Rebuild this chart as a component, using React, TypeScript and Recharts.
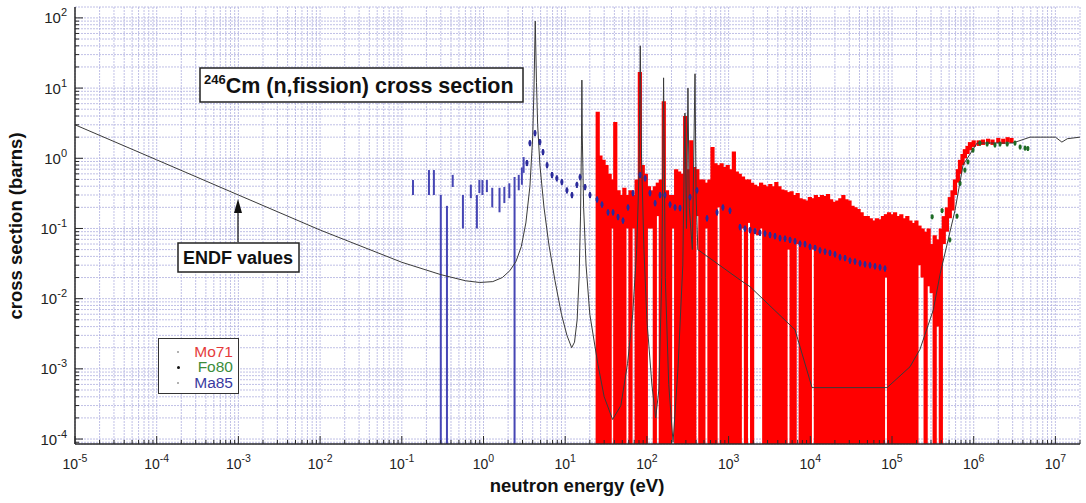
import React from "react";
import {
  ComposedChart,
  Line,
  Scatter,
  ErrorBar,
  XAxis,
  YAxis,
  CartesianGrid,
  Legend,
} from "recharts";

const FONT = '"Liberation Sans", Arial, Helvetica, sans-serif';
const AXIS = "#2a2a2a";

const X_MIN = 1e-5;
const X_MAX = 2e7;
const Y_MIN = 8.5e-5;
const Y_MAX = 143;

const X_DECADES = [-5, -4, -3, -2, -1, 0, 1, 2, 3, 4, 5, 6, 7];
const Y_DECADES = [-5, -4, -3, -2, -1, 0, 1, 2];
const LEGEND_ORDER = ["Mo71", "Fo80", "Ma85"];

// ENDF evaluated curve (eV, barns)
const ENDF_E = [
  1e-5, 1e-4, 1e-3, 1e-2, 0.1, 0.3, 0.6, 0.9, 1.3, 1.7, 2.1, 2.5, 2.9, 3.3, 3.7,
  4.0, 4.15, 4.3, 4.45, 4.6, 4.9, 5.5, 6.3, 7.5, 9, 10.5, 12, 13, 14, 14.8, 15.4,
  15.8, 16.0, 16.2, 16.8, 18, 20, 25, 30, 38, 48, 58, 67, 75, 80, 83, 86, 92, 100,
  115, 128, 140, 152, 160, 168, 185, 209, 240, 275, 292, 305, 318, 330, 360, 388,
  400, 420, 1380, 1830, 6500, 10500, 87000, 166000, 220000, 320000, 390000,
  590000, 740000, 1100000, 3000000, 4900000, 10000000, 12000000, 14000000,
  20000000,
];
const ENDF_Y = [
  3.0, 0.95, 0.3, 0.095, 0.033, 0.022, 0.018, 0.017, 0.0175, 0.02, 0.025, 0.034,
  0.055, 0.12, 0.4, 2.0, 10, 90, 12, 3.0, 0.8, 0.2, 0.06, 0.018, 0.006, 0.003,
  0.002, 0.0024, 0.005, 0.02, 0.15, 1.5, 13, 2, 0.2, 0.03, 0.006, 0.0012, 0.0004,
  0.00019, 0.0003, 0.0012, 0.006, 0.05, 0.6, 40, 1.0, 0.05, 0.005, 0.0006, 0.0002,
  0.0005, 0.02, 14, 0.02, 0.0006, 0.00009, 0.001, 0.03, 4.4, 0.1, 10, 0.2, 0.05,
  16, 0.3, 0.05, 0.0185, 0.0148, 0.0036, 0.00054, 0.00054, 0.00107, 0.0019,
  0.0069, 0.023, 0.18, 0.8, 1.65, 1.65, 2.0, 2.0, 1.7, 1.9, 2.0,
];

// Mo71: top of each bar and bottom (0 = error bar runs below zero)
const MO71_E = [
  25, 27, 29.5, 32, 35, 38, 41, 45, 49, 53, 58, 63, 69, 75, 82, 89, 97, 106, 115,
  125, 136, 148, 161, 176, 192, 209, 228, 248, 270, 294, 320, 349, 380, 414, 451,
  491, 535, 583, 635, 692, 754, 821, 895, 975, 1060, 1160, 1260, 1370, 1500, 1630,
  1780, 1940, 2110, 2300, 2500, 2730, 2970, 3240, 3530, 3840, 4190, 4560, 4970,
  5420, 5900, 6430, 7000, 7630, 8310, 9060, 9870, 10800, 11700, 12800, 13900,
  15200, 16500, 18000, 19600, 21400, 23300, 25400, 27700, 30200, 32900, 35800,
  39000, 42500, 46300, 50500, 55000, 59900, 65300, 71100, 77500, 84500, 92000,
  100000, 109000, 119000, 130000, 141000, 154000, 168000, 183000, 199000, 217000,
  237000, 258000, 281000, 306000, 333000, 363000, 396000, 430000, 470000, 510000,
  550000, 590000, 640000, 680000, 730000, 780000, 840000, 900000, 1000000,
  1150000, 1300000, 1500000, 1700000, 2000000, 2300000, 2600000, 2900000,
];
const MO71_HI = [
  4.6, 1.1, 0.95, 0.8, 0.6, 0.5, 3.3, 0.35, 0.3, 0.38, 0.3, 0.35, 0.3, 0.5, 17,
  0.8, 0.6, 0.4, 0.35, 0.4, 0.45, 0.5, 6.5, 0.35, 0.3, 0.3, 0.7, 0.65, 0.6, 4.0,
  0.7, 1.8, 0.75, 0.7, 0.5, 0.5, 0.45, 0.5, 1.45, 0.85, 0.8, 0.85, 0.75, 0.8, 0.7,
  1.25, 0.65, 0.6, 0.55, 0.5, 0.5, 0.45, 0.42, 0.4, 0.45, 0.42, 0.4, 0.43, 0.4,
  0.46, 0.4, 0.36, 0.35, 0.33, 0.34, 0.3, 0.32, 0.27, 0.26, 0.25, 0.28, 0.27, 0.3,
  0.28, 0.3, 0.29, 0.31, 0.26, 0.24, 0.25, 0.27, 0.3, 0.26, 0.25, 0.21, 0.2, 0.19,
  0.17, 0.15, 0.15, 0.14, 0.13, 0.14, 0.135, 0.15, 0.16, 0.17, 0.16, 0.17, 0.15,
  0.16, 0.14, 0.15, 0.13, 0.12, 0.13, 0.11, 0.1, 0.09, 0.1, 0.06, 0.08, 0.07, 0.1,
  0.15, 0.2, 0.28, 0.35, 0.5, 0.7, 0.95, 1.15, 1.35, 1.5, 1.7, 1.8, 1.8, 1.85,
  1.9, 1.85, 1.95, 1.9, 2.0, 1.95,
];
const MO71_LO = [
  0, 0, 0, 0, 0, 0.1, 0, 0, 0, 0, 0.1, 0, 0.1, 0, 0, 0, 0, 0.1, 0.1, 0, 0.15, 0,
  0, 0, 0, 0.1, 0, 0, 0, 0, 0, 0, 0, 0.15, 0, 0, 0.1, 0, 0, 0, 0.2, 0, 0, 0, 0, 0,
  0, 0, 0.1, 0, 0.12, 0, 0.1, 0.08, 0.1, 0, 0, 0, 0, 0, 0, 0, 0, 0.05, 0, 0, 0.06,
  0, 0, 0, 0, 0.05, 0, 0, 0, 0, 0, 0, 0, 0, 0, 0, 0, 0, 0, 0, 0, 0, 0, 0, 0, 0, 0,
  0, 0, 0.02, 0, 0, 0, 0, 0, 0, 0, 0, 0, 0, 0.03, 0.02, 0, 0.015, 0.012, 0, 0.004,
  0, 0.06, 0.09, 0.14, 0.18, 0.3, 0.45, 0.6, 0.8, 1.0, 1.15, 1.3, 1.45, 1.5, 1.55,
  1.6, 1.55, 1.65, 1.6, 1.7, 1.65,
];

// Fo80 points
const FO80_E = [
  310000, 410000, 510000, 625000, 680000, 780000, 850000, 980000, 1190000,
  1460000, 1820000, 2100000, 2570000, 3200000, 3700000, 4250000, 4600000,
];
const FO80_Y = [
  0.147, 0.18, 0.069, 0.15, 0.44, 0.68, 0.89, 1.31, 1.65, 1.6, 1.55, 1.6, 1.6,
  1.65, 1.45, 1.4, 1.38,
];
const FO80_REL_ERR = 0.08;

// Ma85 resonance-region points
const MA85_E = [
  3.4, 3.7, 4.27, 4.9, 5.35, 6.0, 6.9, 7.9, 9.1, 10.5, 12.1, 13.9, 15.2, 17.5,
  20.1, 24.5, 28.2, 33.4, 38.5, 44.3, 51, 58.7, 67.6, 82.4, 95, 109, 126, 145, 166,
  192, 221, 254, 337, 410, 544, 721, 852, 1040, 1380, 1585, 1830, 2105, 2420,
  2790, 3210, 3700, 4260, 4900, 5650, 6500, 7480, 8610, 9910, 11430, 13150, 15150,
  17400, 20050, 23100, 26600, 30600, 35240, 40600, 46700, 53800, 61950, 71300,
  82000,
];
const MA85_Y = [
  0.86, 1.65, 2.29, 1.71, 1.23, 0.8, 0.58, 0.52, 0.46, 0.35, 0.3, 0.42, 0.54, 0.39,
  0.3, 0.26, 0.22, 0.17, 0.17, 0.146, 0.13, 0.2, 0.32, 0.58, 0.52, 0.32, 0.23, 0.3,
  0.3, 0.22, 0.2, 0.196, 0.28, 0.35, 0.14, 0.17, 0.2, 0.18, 0.105, 0.1, 0.095,
  0.092, 0.087, 0.085, 0.081, 0.078, 0.073, 0.072, 0.069, 0.066, 0.061, 0.06,
  0.055, 0.053, 0.049, 0.047, 0.045, 0.043, 0.039, 0.038, 0.035, 0.034, 0.032,
  0.031, 0.03, 0.029, 0.028, 0.027,
];
const MA85_REL_ERR = 0.1;

// Ma85 low-energy points (bar top / bottom, 0 = runs below zero)
const MA85_LOW_E = [
  0.137, 0.215, 0.247, 0.3, 0.357, 0.42, 0.56, 0.7, 0.83, 0.89, 0.97, 1.1, 1.28,
  1.57, 1.8, 2.07, 2.4, 2.7, 2.95, 3.1,
];
const MA85_LOW_HI = [
  0.49, 0.68, 0.68, 0.3, 0.21, 0.58, 0.3, 0.42, 0.3, 0.49, 0.49, 0.49, 0.38, 0.38,
  0.39, 0.44, 0.54, 0.58, 0.74, 1.04,
];
const MA85_LOW_LO = [
  0.3, 0.3, 0.3, 0, 0, 0.39, 0.1, 0.27, 0.1, 0.32, 0.3, 0.33, 0.2, 0.17, 0.23,
  0.27, 0, 0.35, 0.42, 0.62,
];

const endfData = ENDF_E.map((x, i) => ({ x, y: ENDF_Y[i] }));
const barRows = (es: number[], his: number[], los: number[]) =>
  es.map((x, i) => {
    const lo = los[i] > 0 ? los[i] : Y_MIN;
    return { x, y: his[i], err: [his[i] - lo, 0] };
  });
const mo71Data = barRows(MO71_E, MO71_HI, MO71_LO);
const ma85LowData = barRows(MA85_LOW_E, MA85_LOW_HI, MA85_LOW_LO);
const ma85Data = MA85_E.map((x, i) => ({
  x,
  y: MA85_Y[i],
  err: MA85_Y[i] * MA85_REL_ERR,
}));
const fo80Data = FO80_E.map((x, i) => ({
  x,
  y: FO80_Y[i],
  err: FO80_Y[i] * FO80_REL_ERR,
}));

function logTicks(decades: number[], lo: number, hi: number) {
  const out: number[] = [];
  decades.forEach((d) => {
    for (let m = 1; m <= 9; m++) {
      const v = m * Math.pow(10, d);
      if (v >= lo * 0.9999 && v <= hi * 1.0001) out.push(v);
    }
  });
  return out;
}
const X_TICKS = logTicks(X_DECADES, X_MIN, X_MAX);
const Y_TICKS = logTicks(Y_DECADES, Y_MIN, Y_MAX);

const exponent = (v: number) => Math.round(Math.log10(v));
const isMajor = (v: number) => Math.abs(v / Math.pow(10, exponent(v)) - 1) < 1e-6;

function BottomTick({ x, y, payload }: any) {
  const major = isMajor(payload.value);
  return (
    <g>
      <line x1={x} y1={y} x2={x} y2={y - (major ? 8 : 4)} stroke={AXIS} />
      {major && (
        <text x={x} y={y + 25} textAnchor="middle" fontSize={14} fill="#222" fontFamily={FONT}>
          10<tspan dy={-7} fontSize={10.5}>{exponent(payload.value)}</tspan>
        </text>
      )}
    </g>
  );
}

function TopTick({ x, y, payload }: any) {
  const major = isMajor(payload.value);
  return <line x1={x} y1={y} x2={x} y2={y + (major ? 8 : 4)} stroke={AXIS} />;
}

function LeftTick({ x, y, payload }: any) {
  const major = isMajor(payload.value);
  return (
    <g>
      <line x1={x} y1={y} x2={x + (major ? 8 : 4)} y2={y} stroke={AXIS} />
      {major && (
        <text x={x - 8} y={y + 5.5} textAnchor="end" fontSize={15} fill="#222" fontFamily={FONT}>
          10<tspan dy={-7} fontSize={11}>{exponent(payload.value)}</tspan>
        </text>
      )}
    </g>
  );
}

function RightTick({ x, y, payload }: any) {
  const major = isMajor(payload.value);
  return <line x1={x} y1={y} x2={x - (major ? 8 : 4)} y2={y} stroke={AXIS} />;
}

const noMarker = () => <g />;
const square = (color: string) => (p: any) =>
  <rect x={p.cx - 1.5} y={p.cy - 1.5} width={3} height={3} fill={color} />;

const DOT_STYLE: Record<string, { size: number; color: string }> = {
  Mo71: { size: 2, color: "#999" },
  Fo80: { size: 3, color: "#111" },
  Ma85: { size: 2, color: "#999" },
};

function LegendBox({ payload }: any) {
  const items = (payload ?? [])
    .filter((p: any) => LEGEND_ORDER.includes(p.value))
    .sort((a: any, b: any) => LEGEND_ORDER.indexOf(a.value) - LEGEND_ORDER.indexOf(b.value));
  return (
    <div
      style={{
        border: "1.5px solid #333",
        background: "#fff",
        width: 81,
        height: 56,
        padding: "5px 0",
        fontFamily: FONT,
        boxSizing: "border-box",
      }}
    >
      {items.map((it: any) => {
        const dot = DOT_STYLE[it.value];
        return (
          <div
            key={it.value}
            style={{ display: "flex", alignItems: "center", height: 15.5, fontSize: 15.5 }}
          >
            <span
              style={{
                width: dot.size,
                height: dot.size,
                borderRadius: "50%",
                background: dot.color,
                marginLeft: 18,
                flexShrink: 0,
              }}
            />
            <span style={{ color: it.color, marginLeft: "auto", marginRight: 5 }}>
              {it.value}
            </span>
          </div>
        );
      })}
    </div>
  );
}

export default function App() {
  return (
    <div style={{ position: "absolute", left: 0, top: 0, width: 1086, height: 503, background: "#fff" }}>
      <ComposedChart
        width={1086}
        height={503}
        margin={{ top: 7, right: 6, bottom: 0, left: 0 }}
      >
        <CartesianGrid stroke="#b0b0e0" strokeDasharray="2 1" strokeWidth={0.8} />
        <XAxis
          dataKey="x"
          type="number"
          scale="log"
          domain={[X_MIN, X_MAX]}
          allowDataOverflow
          ticks={X_TICKS}
          interval={0}
          height={59}
          tickSize={0}
          tickMargin={0}
          tickLine={false}
          tick={BottomTick}
          axisLine={{ stroke: AXIS, strokeWidth: 1.5 }}
        />
        <XAxis
          xAxisId="top"
          orientation="top"
          type="number"
          scale="log"
          domain={[X_MIN, X_MAX]}
          allowDataOverflow
          ticks={X_TICKS}
          interval={0}
          height={0}
          tickSize={0}
          tickMargin={0}
          tickLine={false}
          tick={TopTick}
          axisLine={{ stroke: AXIS, strokeWidth: 1.5 }}
        />
        <YAxis
          dataKey="y"
          type="number"
          scale="log"
          domain={[Y_MIN, Y_MAX]}
          allowDataOverflow
          ticks={Y_TICKS}
          interval={0}
          width={75}
          tickSize={0}
          tickMargin={0}
          tickLine={false}
          tick={LeftTick}
          axisLine={{ stroke: AXIS, strokeWidth: 1.5 }}
        />
        <YAxis
          yAxisId="right"
          orientation="right"
          type="number"
          scale="log"
          domain={[Y_MIN, Y_MAX]}
          allowDataOverflow
          ticks={Y_TICKS}
          interval={0}
          width={0}
          tickSize={0}
          tickMargin={0}
          tickLine={false}
          tick={RightTick}
          axisLine={{ stroke: AXIS, strokeWidth: 1.5 }}
        />
        <Legend
          layout="horizontal"
          verticalAlign="middle"
          align="center"
          wrapperStyle={{ left: 158, top: 338, width: 81, height: 56 }}
          content={LegendBox}
        />
        <Scatter name="Mo71" data={mo71Data} dataKey="y" fill="#e53b3b" shape={noMarker} isAnimationActive={false}>
          <ErrorBar dataKey="err" direction="y" width={0} stroke="#ff0000" strokeWidth={4.2} />
        </Scatter>
        <Scatter name="Fo80" data={fo80Data} dataKey="y" fill="#3b8c3b" shape={square("#1d6b24")} isAnimationActive={false}>
          <ErrorBar dataKey="err" direction="y" width={0} stroke="#1d6b24" strokeWidth={2} />
        </Scatter>
        <Scatter name="Ma85 low" legendType="none" data={ma85LowData} dataKey="y" fill="#4646b4" shape={noMarker} isAnimationActive={false}>
          <ErrorBar dataKey="err" direction="y" width={0} stroke="#4646b4" strokeWidth={2} />
        </Scatter>
        <Scatter name="Ma85" data={ma85Data} dataKey="y" fill="#3a3aa0" shape={square("#2b2b9b")} isAnimationActive={false}>
          <ErrorBar dataKey="err" direction="y" width={0} stroke="#2b2b9b" strokeWidth={2} />
        </Scatter>
        <Line
          name="ENDF"
          legendType="none"
          data={endfData}
          dataKey="y"
          type="linear"
          stroke="#3a3a3a"
          strokeWidth={1}
          dot={false}
          isAnimationActive={false}
        />
      </ComposedChart>
      <svg
        width={1086}
        height={503}
        style={{ position: "absolute", left: 0, top: 0, pointerEvents: "none" }}
        fontFamily={FONT}
      >
        <rect x={200} y={68} width={323} height={34} fill="#fff" stroke="#222" strokeWidth={1.5} />
        <text x={204} y={93} fontWeight="bold" fontSize={21.5} fill="#111">
          <tspan fontSize={13} dy={-9}>246</tspan>
          <tspan dy={9}>Cm (n,fission) cross section</tspan>
        </text>
        <rect x={178} y={243} width={121} height={29} fill="#fff" stroke="#222" strokeWidth={1.5} />
        <text x={183} y={264} fontWeight="bold" fontSize={18} fill="#111">
          ENDF values
        </text>
        <line x1={238} y1={242} x2={238} y2={212} stroke="#111" strokeWidth={1.2} />
        <polygon points="238,199 234,213 242,213" fill="#111" />
        <text x={577} y={492} textAnchor="middle" fontWeight="bold" fontSize={18.5} fill="#111">
          neutron energy (eV)
        </text>
        <text
          x={0}
          y={0}
          transform="translate(22,226) rotate(-90)"
          textAnchor="middle"
          fontWeight="bold"
          fontSize={18.5}
          fill="#111"
        >
          cross section (barns)
        </text>
      </svg>
    </div>
  );
}
